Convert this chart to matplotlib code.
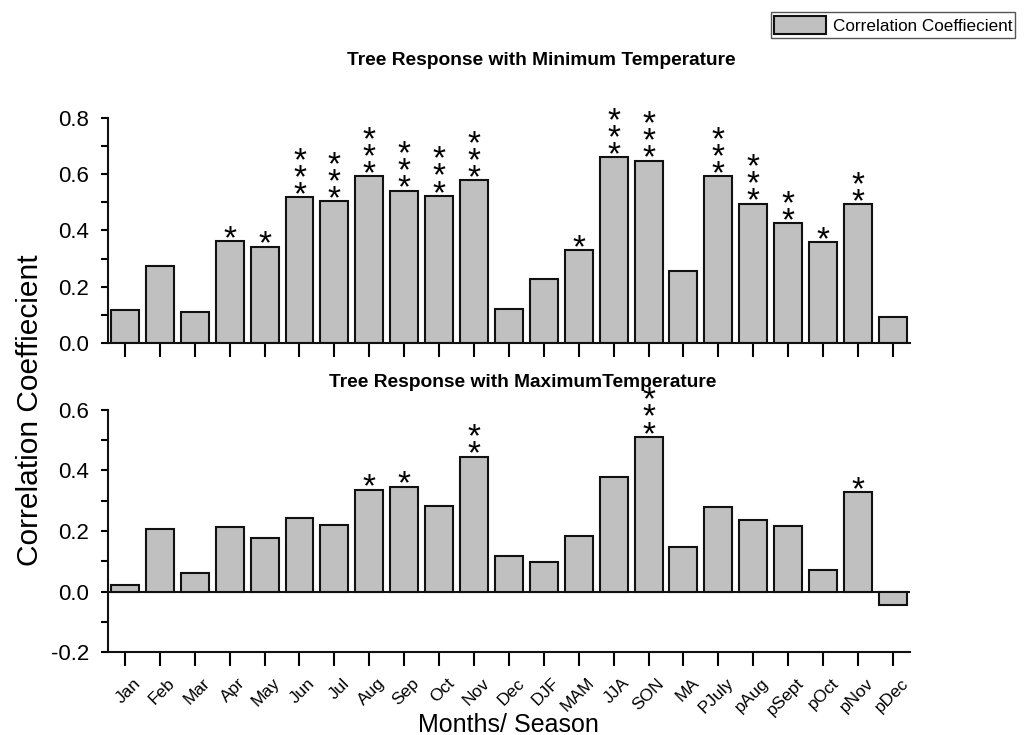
import matplotlib.pyplot as plt
from matplotlib.patches import Patch
from matplotlib.ticker import MultipleLocator, FormatStrFormatter
from matplotlib.transforms import ScaledTranslation

plt.rcParams['font.family'] = ['Liberation Sans', 'DejaVu Sans']

labels = ["Jan", "Feb", "Mar", "Apr", "May", "Jun", "Jul", "Aug", "Sep", "Oct",
          "Nov", "Dec", "DJF", "MAM", "JJA", "SON", "MA", "PJuly", "pAug",
          "pSept", "pOct", "pNov", "pDec"]

tmin_corr = [0.117, 0.274, 0.111, 0.363, 0.343, 0.518, 0.504, 0.592, 0.541, 0.523,
             0.578, 0.120, 0.227, 0.330, 0.661, 0.648, 0.255, 0.592, 0.495,
             0.425, 0.359, 0.494, 0.094]
tmin_stars = [0, 0, 0, 1, 1, 3, 3, 3, 3, 3, 3, 0, 0, 1, 3, 3, 0, 3, 3, 2, 1, 2, 0]

tmax_corr = [0.020, 0.208, 0.062, 0.214, 0.177, 0.243, 0.220, 0.336, 0.347, 0.284,
             0.446, 0.116, 0.097, 0.183, 0.377, 0.511, 0.148, 0.280, 0.237,
             0.215, 0.070, 0.329, -0.045]
tmax_stars = [0, 0, 0, 0, 0, 0, 0, 1, 1, 0, 2, 0, 0, 0, 0, 3, 0, 0, 0, 0, 0, 1, 0]

bar_color = "#c0c0c0"
edge = "#111111"
x = list(range(len(labels)))

fig = plt.figure(figsize=(10.24, 7.35), dpi=100)
ax1 = fig.add_axes([0.105, 0.5333, 0.784, 0.3062])
ax2 = fig.add_axes([0.105, 0.1129, 0.784, 0.3293])


def style_axis(ax, ymin, ymax):
    ax.set_xlim(-0.5, len(labels) - 0.5)
    ax.set_ylim(ymin, ymax)
    for s in ("top", "right"):
        ax.spines[s].set_visible(False)
    for s in ("left", "bottom"):
        ax.spines[s].set_linewidth(1.5)
        ax.spines[s].set_color(edge)
    ax.set_xticks(x)
    ax.yaxis.set_major_locator(MultipleLocator(0.2))
    ax.yaxis.set_minor_locator(MultipleLocator(0.1))
    ax.yaxis.set_major_formatter(FormatStrFormatter("%.1f"))
    ax.tick_params(axis="y", which="both", direction="out", length=5, width=1.5,
                   labelsize=16, pad=8)
    ax.tick_params(axis="x", direction="out", length=10, width=1.5)


def add_stars(ax, values, stars):
    # one text per bar, stars stacked on top of each other
    for i, (v, n) in enumerate(zip(values, stars)):
        if n == 0:
            continue
        ax.annotate("\n".join(["*"] * n), xy=(i, v), xytext=(0, -10),
                    textcoords="offset points", ha="center", va="bottom",
                    fontsize=24, linespacing=0.42, annotation_clip=False)


ax1.bar(x, tmin_corr, width=0.8, color=bar_color, edgecolor=edge, linewidth=1.5)
style_axis(ax1, 0, 0.8)
ax1.set_xticklabels([])
add_stars(ax1, tmin_corr, tmin_stars)

ax2.bar(x, tmax_corr, width=0.8, color=bar_color, edgecolor=edge, linewidth=1.5)
ax2.axhline(0, color=edge, linewidth=1.5, zorder=0.5)
style_axis(ax2, -0.2, 0.6)
ax2.set_xticklabels(labels, rotation=45, ha="right", va="center",
                    rotation_mode="anchor", fontsize=12.5)
shift = ScaledTranslation(13 / 100, -10 / 100, fig.dpi_scale_trans)
for lab in ax2.get_xticklabels():
    lab.set_transform(lab.get_transform() + shift)
add_stars(ax2, tmax_corr, tmax_stars)

fig.text(0.529, 0.918, "Tree Response with Minimum Temperature",
         ha="center", va="center", fontsize=13.8, fontweight="bold")
fig.text(0.51, 0.48, "Tree Response with MaximumTemperature",
         ha="center", va="center", fontsize=13.8, fontweight="bold")
fig.text(0.029, 0.442, "Correlation Coeffiecient", rotation=90,
         ha="center", va="center", fontsize=21.5)
fig.text(0.497, 0.014, "Months/ Season", ha="center", va="center", fontsize=18)

handle = Patch(facecolor=bar_color, edgecolor=edge, linewidth=1.5)
fig.legend([handle], ["Correlation Coeffiecient"], loc="upper right",
           bbox_to_anchor=(1.0, 0.995), fontsize=12.3, fancybox=False,
           framealpha=1, edgecolor="#555555", borderpad=0.2,
           handlelength=3.0, handleheight=1.3, handletextpad=0.4)

fig.savefig("out.png", dpi=100)
